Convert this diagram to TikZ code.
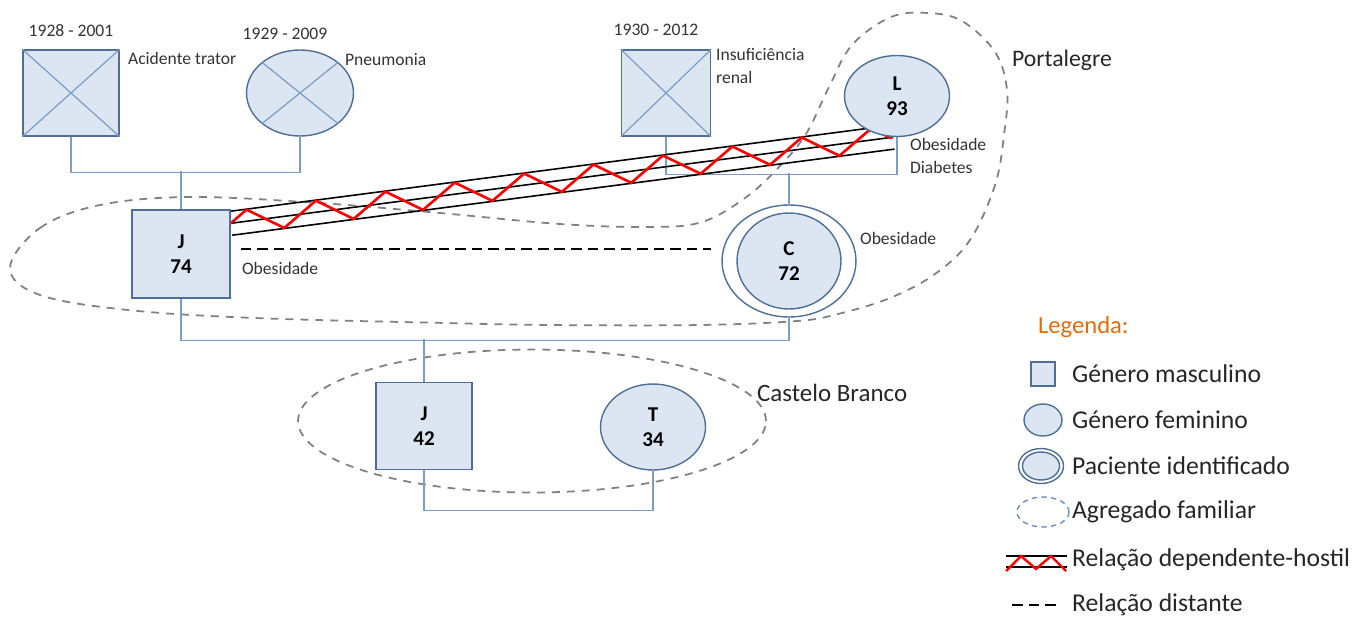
\documentclass[tikz,border=0pt]{standalone}
\usepackage{fontspec}
\setmainfont{Carlito}
\usetikzlibrary{positioning,shapes.geometric,decorations.pathmorphing,calc,backgrounds}
\definecolor{boxfill}{RGB}{220,230,242}
\definecolor{boxline}{RGB}{79,111,150}
\definecolor{kinline}{RGB}{125,158,196}
\definecolor{houseline}{RGB}{125,128,135}
\definecolor{legorange}{RGB}{228,108,10}
\definecolor{legblue}{RGB}{110,145,190}

\begin{document}
\begin{tikzpicture}[
		x=0.02cm,y=-0.02cm,
		male/.style={draw=boxline,fill=boxfill,line width=0.8pt,rectangle,minimum width=1.92cm,minimum height=1.72cm,align=center,font=\bfseries\fontsize{12}{14}\selectfont},
		female/.style={draw=boxline,fill=boxfill,line width=0.8pt,ellipse,minimum width=2.14cm,minimum height=1.72cm,align=center,font=\bfseries\fontsize{12}{14}\selectfont},
		cross/.style={draw=kinline,line width=0.7pt},
		kin/.style={draw=kinline,line width=0.7pt},
		house/.style={draw=houseline,line width=1pt,dash pattern=on 4.5pt off 4pt},
		lbl/.style={inner sep=1pt,text=black!80,font=\fontsize{10}{13}\selectfont},
		big/.style={inner sep=1pt,text=black!85,font=\fontsize{13.5}{16}\selectfont},
		leg/.style={inner sep=1pt,text=black!85,font=\fontsize{14.6}{17}\selectfont},
		distant/.style={draw=black,line width=1.1pt,dash pattern=on 6pt off 3.4pt},
		hostile/.style={draw=black,line width=0.9pt},
		zig/.style={draw=red,line width=1.5pt,decorate,decoration={zigzag,segment length=1.4cm,amplitude=0.23cm}}
		]
		\useasboundingbox (0,0) rectangle (1365,619);
		
		% first generation
		\node[male] (pj) at (71,93) {};
		\draw[cross] (pj.north west) -- (pj.south east) (pj.north east) -- (pj.south west);
		\node[lbl,above=0.22cm of pj] {1928 - 2001};
		\node[lbl,anchor=west] at (126,58) {Acidente trator};
		
		\node[female] (mj) at (300,93) {};
		\draw[cross] (mj.north west) -- (mj.south east) (mj.north east) -- (mj.south west);
		\node[lbl] at (285,34) {1929 - 2009};
		\node[lbl,anchor=west] at (343,60) {Pneumonia};
		
		\node[male,minimum width=1.78cm] (pc) at (666,93) {};
		\draw[cross] (pc.north west) -- (pc.south east) (pc.north east) -- (pc.south west);
		\node[lbl] at (656,30) {1930 - 2012};
		\node[lbl,anchor=north west,align=left] at (714,46) {Insuficiência\\renal};
		
		\node[female,minimum width=2.1cm,minimum height=1.62cm] (l93) at (897,96) {L\\93};
		\node[lbl,anchor=north west,align=left] at (908,136) {Obesidade\\Diabetes};
		
		% second generation
		\node[male,minimum width=1.96cm,minimum height=1.76cm] (j74) at (181,254) {J\\74};
		\node[lbl,anchor=west] at (240,268) {Obesidade};
		
		\node[female,fill=none,minimum width=2.68cm,minimum height=2.24cm] (c72o) at (789,261) {};
		\node[female,minimum width=2.08cm,minimum height=1.92cm] (c72) at (789,261) {C\\72};
		\node[lbl,anchor=west] at (858,238) {Obesidade};
		
		% third generation
		\node[male,minimum height=1.74cm] (j42) at (424,426) {J\\42};
		\node[female,minimum width=2.1cm] (t34) at (653,427) {T\\34};
		
		\node[big,anchor=west] at (1010,60) {Portalegre};
		\node[big,anchor=west,font=\fontsize{14.2}{17}\selectfont] at (755,393) {Castelo Branco};
		
		\begin{pgfonlayer}{background}
			% households
			\draw[house] plot[smooth cycle,tension=0.6] coordinates {(10,268) (40,228) (100,205) (191,197) (319,203) (440,213) (560,224) (650,227) (702,222) (745,198) (778,168) (806,134) (829,87) (852,45) (891,17) (928,13) (962,21) (995,52) (1007,90) (1004,135) (995,185) (970,240) (935,274) (890,298) (838,314) (797,321) (700,325) (550,325) (446,323) (255,318) (128,310) (40,295)};
			\node[house,ellipse,minimum width=9.36cm,minimum height=2.86cm] (cb) at (532,421) {};
			
			% kinship lines
			\draw[kin] (pj.south) -- ++(0,36) -| (mj.south);
			\draw[kin] (j74.north) -- ++(0,-38);
			\draw[kin] (pc.south) -- ++(0,38) -| (l93.south);
			\draw[kin] (c72o.north) -- ++(0,-31);
			\draw[kin] (j74.south) -- ++(0,42) -| (c72o.south);
			\draw[kin] (j42.north) -- ++(0,-43);
			\draw[kin] (j42.south) -- ++(0,40) -| (t34.south);
			
			% relations
			\coordinate (hs) at ($(j74.north east)+(0,14)$);
			\coordinate (he) at ($(l93.south)+(-4,0)$);
			\draw[hostile] (hs) -- (he);
			\draw[hostile] ($(hs)!0.24cm!90:(he)$) -- ($(he)!0.24cm!-90:(hs)$);
			\draw[hostile] ($(hs)!0.24cm!-90:(he)$) -- ($(he)!0.24cm!90:(hs)$);
			\draw[zig] (hs) -- (he);
		\end{pgfonlayer}
		\draw[distant] ($(j74.east)+(10,-5)$) -- ($(c72o.west)+(-10,-12)$);
		
		% legend
		\node[anchor=west,inner sep=1pt,text=legorange,font=\fontsize{14}{16}\selectfont] at (1036,327) {Legenda:};
		\node[male,minimum width=0.48cm,minimum height=0.48cm] (lm) at (1043,374) {};
		\node[leg,anchor=west] at (1070,374) {Género masculino};
		\node[female,minimum width=0.76cm,minimum height=0.64cm] (lf) at (1043,420) {};
		\node[leg,anchor=west] at (1070,420) {Género feminino};
		\node[female,fill=none,minimum width=0.9cm,minimum height=0.7cm] (lpo) at (1041,466) {};
		\node[female,minimum width=0.74cm,minimum height=0.56cm] (lp) at (1041,466) {};
		\node[leg,anchor=west] at (1070,466) {Paciente identificado};
		\node[ellipse,draw=legblue,line width=0.8pt,dash pattern=on 3pt off 2.5pt,minimum width=1.04cm,minimum height=0.6cm] (lh) at (1043,512) {};
		\node[leg,anchor=west] at (1070,512) {Agregado familiar};
		\coordinate (lzs) at (1006,562);
		\coordinate (lze) at (1067,562);
		\draw[hostile] ($(lzs)+(0,-6)$) -- ($(lze)+(0,-6)$);
		\draw[hostile] ($(lzs)+(0,5)$) -- ($(lze)+(0,5)$);
		\draw[red,line width=1.4pt] ($(lzs)+(0,9)$) -- ++(15,-15) -- ++(15,13) -- ++(15,-13) -- ++(15,15);
		\node[leg,anchor=west] at (1070,560) {Relação dependente-hostil};
		\coordinate (lds) at (1012,605);
		\draw[distant] (lds) -- ++(48,0);
		\node[leg,anchor=west] at (1070,605) {Relação distante};
	\end{tikzpicture}
\end{document}
